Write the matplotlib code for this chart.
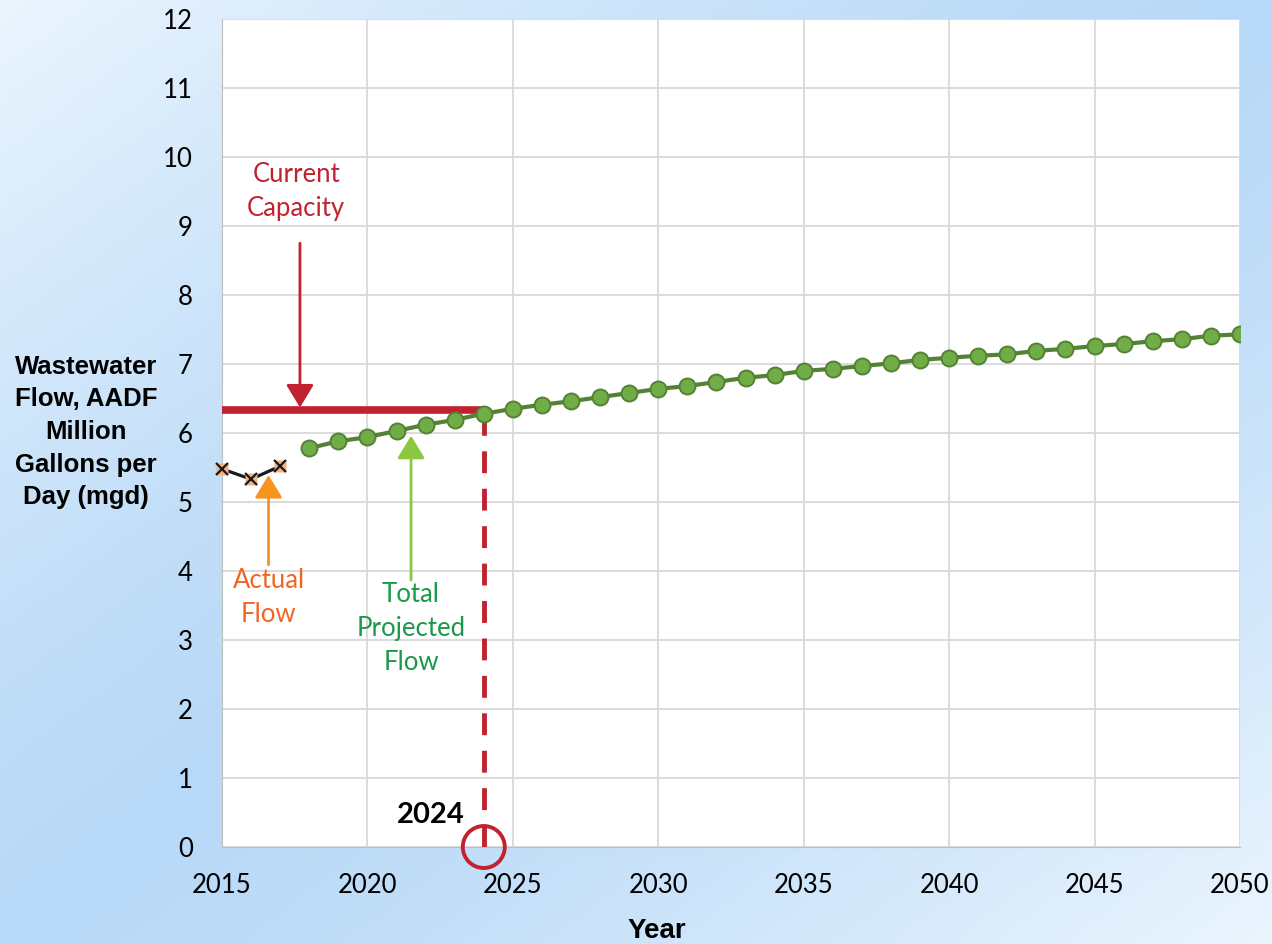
import matplotlib
matplotlib.use("Agg")
import matplotlib.pyplot as plt
import numpy as np
from matplotlib.patches import Ellipse

actual_years = [2015, 2016, 2017]
actual_flow = [5.48, 5.33, 5.52]

proj_years = list(range(2018, 2051))
proj_flow = [5.78, 5.88, 5.94, 6.03, 6.12, 6.19, 6.28, 6.35, 6.41, 6.46, 6.52,
             6.58, 6.64, 6.68, 6.74, 6.80, 6.84, 6.90, 6.93, 6.97, 7.01, 7.06,
             7.09, 7.12, 7.14, 7.19, 7.22, 7.26, 7.29, 7.33, 7.36, 7.41, 7.43]

capacity = 6.33
capacity_start, capacity_end = 2015, 2023.95
cap_year = 2024

xticks = [2015, 2020, 2025, 2030, 2035, 2040, 2045, 2050]
yticks = list(range(0, 13))

fig = plt.figure(figsize=(12.72, 9.44), dpi=100)

# background gradient
bg = fig.add_axes([0, 0, 1, 1], zorder=-10)
bg.axis("off")
ny, nx = 200, 270
X, Y = np.meshgrid(np.linspace(0, 1, nx), np.linspace(0, 1, ny))
d = np.abs((X + Y) / 2 - 0.5) * 2
d = np.clip(d, 0, 1) ** 1.3
c_mid = np.array([0.72, 0.85, 0.97])
c_edge = np.array([0.92, 0.96, 0.995])
img = c_mid[None, None, :] * (1 - d[..., None]) + c_edge[None, None, :] * d[..., None]
bg.imshow(img, extent=[0, 1, 0, 1], aspect="auto", origin="upper")
bg.set_xlim(0, 1); bg.set_ylim(0, 1)

ax = fig.add_axes([222/1272, 97/944, 1018/1272, 828/944])
ax.set_facecolor("white")
ax.set_xlim(2015, 2050)
ax.set_ylim(0, 12)
ax.set_xticks(xticks)
ax.set_yticks(yticks)
ax.grid(True, color="#d9d9d9", linewidth=1.3)
ax.set_axisbelow(True)
for s in ["top", "right"]:
    ax.spines[s].set_visible(False)
ax.spines["left"].set_color("#bfbfbf")
ax.spines["bottom"].set_color("#bfbfbf")
ax.tick_params(length=0, labelsize=18.5)
ax.tick_params(axis="y", pad=21)
ax.tick_params(axis="x", pad=19)
for lbl in ax.get_xticklabels() + ax.get_yticklabels():
    lbl.set_fontfamily("Lato")

RED = "#c0232f"
# capacity line
ax.plot([capacity_start, capacity_end], [capacity, capacity], color=RED,
        linewidth=5.5, solid_capstyle="butt", zorder=3)
# dashed vertical
ax.plot([cap_year, cap_year], [0, capacity - 0.05], color=RED, linewidth=3.5,
        dashes=(4.5, 3.2), zorder=3)
circ = Ellipse((cap_year, 0), width=42/29.09, height=42/69.0, fill=False,
               edgecolor=RED, linewidth=2.8, clip_on=False, zorder=5)
ax.add_patch(circ)

# projected
ax.plot(proj_years, proj_flow, color="#548235", linewidth=3, marker="o",
        markersize=11.5, markerfacecolor="#70ad47", markeredgecolor="#548235",
        markeredgewidth=1.4, zorder=4)
# actual
ax.plot(actual_years, actual_flow, color="#1a1a1a", linewidth=2.3, zorder=4,
        clip_on=False)
ax.plot(actual_years, actual_flow, linestyle="none", marker="s", markersize=9,
        markerfacecolor="#f4b183", markeredgecolor="none", zorder=5, clip_on=False)
ax.plot(actual_years, actual_flow, linestyle="none", marker="x", markersize=9,
        markeredgecolor="#1a1a1a", markeredgewidth=1.6, zorder=6, clip_on=False)

# arrows
def arrow(x, y0, y1, color):
    ax.annotate("", xy=(x, y1), xytext=(x, y0),
                arrowprops=dict(arrowstyle="-|>,head_length=1.4,head_width=0.85",
                                color=color, linewidth=2, shrinkA=0, shrinkB=0),
                zorder=6)

arrow(2017.68, 8.75, 6.37, RED)
arrow(2016.6, 4.09, 5.39, "#f7941d")
arrow(2021.5, 3.87, 5.96, "#8dc63f")

tkw = dict(fontsize=18.5, ha="center", va="center", family="Lato", linespacing=1.45)
ax.text(2017.55, 9.5, "Current\nCapacity", color=RED, **tkw)
ax.text(2016.6, 3.62, "Actual\nFlow", color="#f26522", **tkw)
ax.text(2021.5, 3.17, "Total\nProjected\nFlow", color="#1a9a48", **tkw)
ax.text(2023.35, 0.46, "2024", color="black", fontsize=21, fontweight="bold",
        ha="right", va="center", family="Lato")

fig.text(86/1272, 1 - 432/944, "Wastewater\nFlow, AADF\nMillion\nGallons per\nDay (mgd)",
         ha="center", va="center", fontsize=18.5, fontweight="bold",
         family="Liberation Sans", linespacing=1.45)
fig.text(657/1272, 1 - 931/944, "Year", ha="center", va="center", fontsize=20,
         fontweight="bold", family="Liberation Sans")

fig.savefig("out.png", dpi=100)
